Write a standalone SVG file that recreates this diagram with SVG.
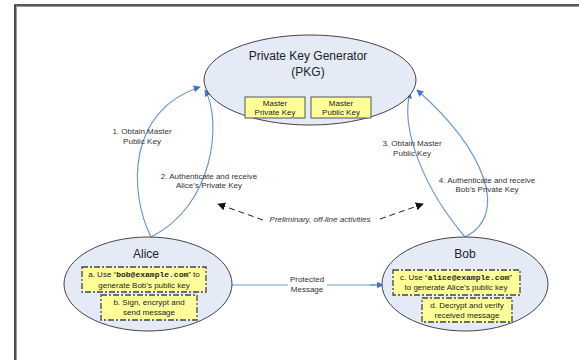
<svg xmlns="http://www.w3.org/2000/svg" width="579" height="360" viewBox="0 0 579 360">
<defs>
<style>
text{font-family:"Liberation Sans",Arial,sans-serif;fill:#333;text-anchor:middle}
.title{font-size:12px;fill:#222}
.lbl{font-size:8px}
.box{font-size:8px;fill:#222}
.mono{font-family:"Liberation Mono","Courier New",monospace;font-weight:bold}
.ell{fill:#e4ebf7;stroke:#444;stroke-width:1}
.mk{fill:#ffff99;stroke:#555;stroke-width:1}
.dk{fill:#ffff99;stroke:#444;stroke-width:1.3;stroke-dasharray:6,2,2,2}
.blue{fill:none;stroke:#6a98d8;stroke-width:1.2;marker-end:url(#ab)}
.dash{fill:none;stroke:#222;stroke-width:1;stroke-dasharray:6,4;marker-end:url(#ak)}
</style>
<marker id="ab" viewBox="0 0 10 10" refX="9" refY="5" markerWidth="7" markerHeight="7" markerUnits="userSpaceOnUse" orient="auto"><path d="M0,0 L10,5 L0,10 z" fill="#3f74c8"/></marker>
<marker id="ak" viewBox="0 0 10 10" refX="9" refY="5" markerWidth="8" markerHeight="8" markerUnits="userSpaceOnUse" orient="auto"><path d="M0,0 L10,5 L0,10 z" fill="#111"/></marker>
</defs>
<rect width="579" height="360" fill="#fff"/>
<path d="M16.5,360 V6.5 H579" fill="none" stroke="#999" stroke-width="1"/>
<path d="M15,360 V5 H579" fill="none" stroke="#222" stroke-width="1.6"/>

<g id="connectors">
<path class="blue" d="M151,237 C128,190 128,110 200,87"/>
<path class="blue" d="M151,237 C215,205 222,120 205,90"/>
<path class="blue" d="M465,237 C425,190 400,130 410,92"/>
<path class="blue" d="M465,237 C510,215 485,150 417,90"/>
<path class="dash" d="M263,220 L218,204"/>
<path class="dash" d="M380,219 L423,204"/>
<path d="M232,285 H288 M327,285 H383" fill="none" stroke="#6a98d8" stroke-width="1.2"/>
<path class="blue" d="M370,285 H383"/>
<text class="lbl" x="142" y="134">1. Obtain Master</text>
<text class="lbl" x="142" y="144">Public Key</text>
<text class="lbl" x="209" y="179">2. Authenticate and receive</text>
<text class="lbl" x="209" y="188">Alice’s Private Key</text>
<text class="lbl" x="412" y="146">3. Obtain Master</text>
<text class="lbl" x="412" y="156">Public Key</text>
<text class="lbl" x="487" y="183">4. Authenticate and receive</text>
<text class="lbl" x="487" y="192">Bob’s Private Key</text>
<text class="lbl" x="320" y="222" font-style="italic">Preliminary, off-line activities</text>
<text class="lbl" x="307" y="282">Protected</text>
<text class="lbl" x="307" y="292">Message</text>
</g>

<g id="pkg">
<ellipse class="ell" cx="310" cy="80" rx="106" ry="45"/>
<text class="title" x="308" y="60">Private Key Generator</text>
<text class="title" x="308" y="76">(PKG)</text>
<g id="master-private">
<rect class="mk" x="245" y="97" width="60" height="21"/>
<text class="box" x="275" y="106">Master</text>
<text class="box" x="275" y="115">Private Key</text>
</g>
<g id="master-public">
<rect class="mk" x="311" y="97" width="60" height="21"/>
<text class="box" x="341" y="106">Master</text>
<text class="box" x="341" y="115">Public Key</text>
</g>
</g>

<g id="alice">
<ellipse class="ell" cx="148" cy="284" rx="84" ry="47"/>
<text class="title" x="146" y="258">Alice</text>
<g id="alice-a">
<rect class="dk" x="82" y="267" width="124" height="25"/>
<text class="box" x="144" y="277">a. Use “<tspan class="mono">bob@example.com</tspan>” to</text>
<text class="box" x="144" y="288">generate Bob’s public key</text>
</g>
<g id="alice-b">
<rect class="dk" x="101" y="295" width="96" height="25"/>
<text class="box" x="149" y="305">b. Sign, encrypt and</text>
<text class="box" x="149" y="315">send message</text>
</g>
</g>

<g id="bob">
<ellipse class="ell" cx="465" cy="284" rx="83" ry="47"/>
<text class="title" x="465" y="258">Bob</text>
<g id="bob-c">
<rect class="dk" x="393" y="270" width="127" height="25"/>
<text class="box" x="456" y="280">c. Use “<tspan class="mono">alice@example.com</tspan>”</text>
<text class="box" x="456" y="290">to generate Alice’s public key</text>
</g>
<g id="bob-d">
<rect class="dk" x="422" y="298" width="90" height="24"/>
<text class="box" x="467" y="308">d. Decrypt and verify</text>
<text class="box" x="467" y="318">received message</text>
</g>
</g>
</svg>
